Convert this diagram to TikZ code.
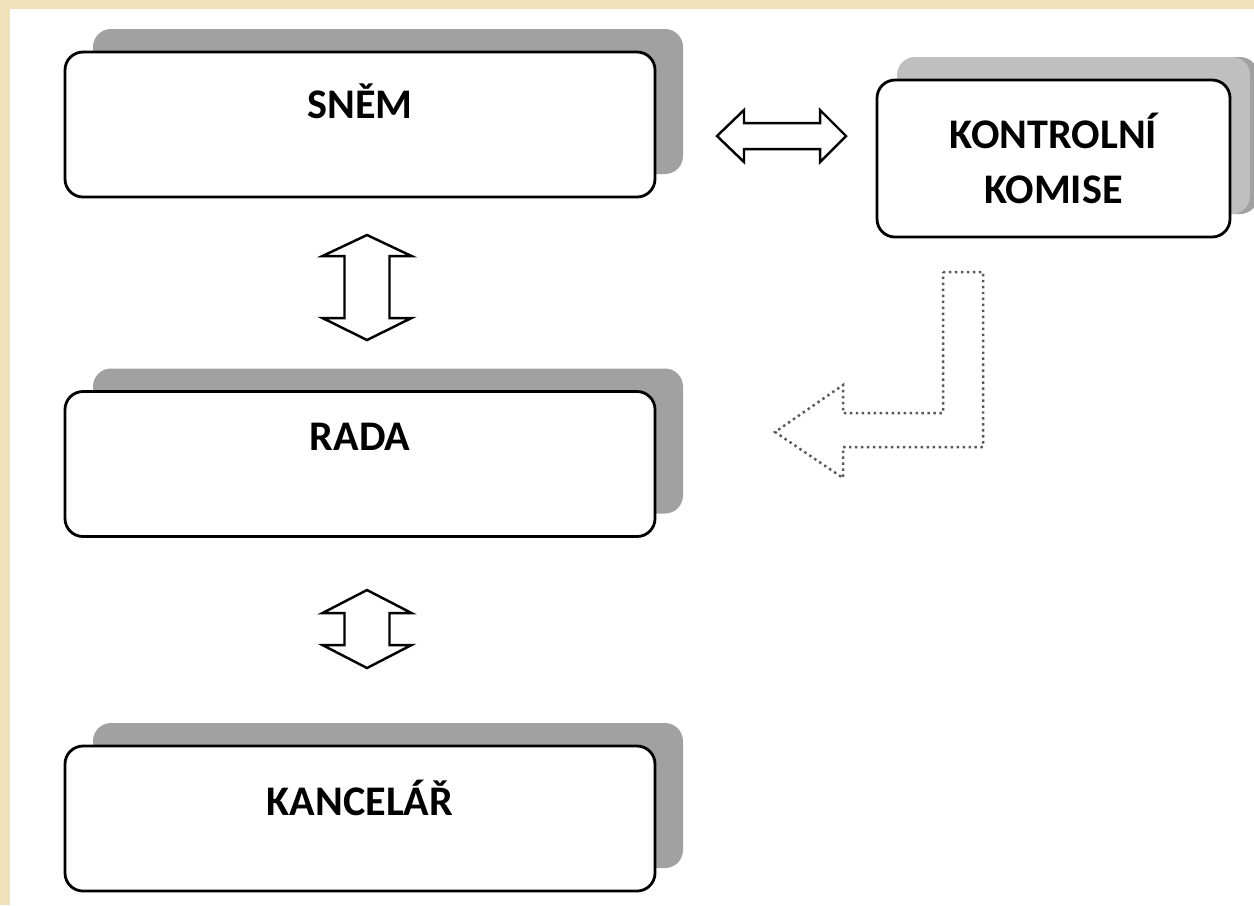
\documentclass[tikz,border=0pt]{standalone}
\usepackage{fontspec}
\setmainfont{Carlito}
\usetikzlibrary{calc,positioning,shadows}
\definecolor{pagebeige}{HTML}{F0E1BA}

\begin{document}
\begin{tikzpicture}[font=\bfseries\fontsize{12}{15.6}\selectfont]

        % Setup the styles
        \tikzset{box style/.style={draw=black, line width=0.8pt, fill=white,
                                   rounded corners=0.18cm,
                                   minimum width=5.9cm, minimum height=1.45cm,
                                   drop shadow={shadow xshift=0.28cm, shadow yshift=0.23cm,
                                                fill=black!37, opacity=1}},
                 label style/.style={inner sep=0pt},
                 link style/.style={draw=black, line width=0.7pt, fill=white}}

        % Page frame
        \useasboundingbox (0,0) rectangle (12.54,-9.05);
        \fill[pagebeige] (0,0) rectangle (12.54,-0.09);
        \fill[pagebeige] (0,0) rectangle (0.10,-9.05);

        % Draw the boxes
        \node[box style] at (3.60,-1.245) (snem)     {};
        \node[box style] at (3.60,-4.64)  (rada)     {};
        \node[box style] at (3.60,-8.185) (kancelar) {};
        \node[box style, minimum width=3.53cm, minimum height=1.57cm, align=center,
              drop shadow={shadow xshift=0.2cm, shadow yshift=0.23cm,
                           fill=black!25, opacity=1}]
            at (10.535,-1.585) (komise) {KONTROLNÍ\\KOMISE};

        % Labels near the top of the boxes
        \node[label style] at ([yshift=-0.51cm]snem.north)     (snemtxt) {SNĚM};
        \node[label style] at ([yshift=-0.47cm]rada.north)     (radatxt) {RADA};
        \node[label style] at ([yshift=-0.53cm]kancelar.north) (kanctxt) {KANCELÁŘ};

        % Tips of the double arrows
        \coordinate (snemkomise) at (7.17,-1.36);
        \coordinate (snemrada)   at (3.67,-2.35);
        \coordinate (radakanc)   at (3.67,-5.90);

        % Connect the boxes with double arrows
        \draw[link style] (snemkomise) -- ++(0.27,0.26) -- ++(0,-0.13) -- ++(0.76,0)
            -- ++(0,0.13) -- ++(0.26,-0.26) -- ++(-0.26,-0.26) -- ++(0,0.13)
            -- ++(-0.76,0) -- ++(0,-0.13) -- cycle;
        \draw[link style] (snemrada) -- ++(0.445,-0.21) -- ++(-0.22,0) -- ++(0,-0.62)
            -- ++(0.22,0) -- ++(-0.445,-0.22) -- ++(-0.445,0.22) -- ++(0.22,0)
            -- ++(0,0.62) -- ++(-0.22,0) -- cycle;
        \draw[link style] (radakanc) -- ++(0.445,-0.23) -- ++(-0.22,0) -- ++(0,-0.32)
            -- ++(0.22,0) -- ++(-0.445,-0.23) -- ++(-0.445,0.23) -- ++(0.22,0)
            -- ++(0,0.32) -- ++(-0.22,0) -- cycle;

        % Dotted bent arrow from the commission
        \coordinate (bend) at (9.43,-2.72);
        \draw[densely dotted, line width=0.7pt, draw=black!65]
            (bend) -- ++(0.40,0) -- ++(0,-1.75) -- ++(-1.40,0) -- ++(0,-0.31)
            -- ++(-0.68,0.46) -- ++(0.68,0.47) -- ++(0,-0.28) -- ++(1.00,0) -- cycle;
    \end{tikzpicture}
\end{document}
